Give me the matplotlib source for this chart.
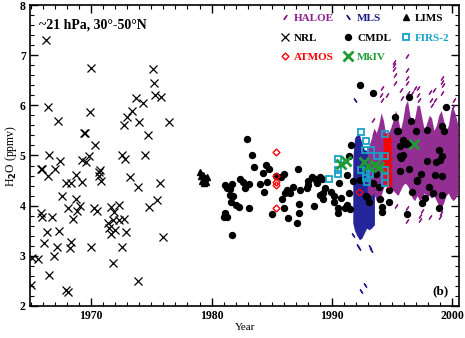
import matplotlib
matplotlib.use("Agg")
import matplotlib.pyplot as plt
from matplotlib.lines import Line2D
from matplotlib.ticker import MultipleLocator

plt.rcParams['font.family'] = ['Liberation Serif', 'DejaVu Serif']
plt.rcParams['font.weight'] = 'bold'

# NRL frost point (1964-1976)
nrl_x = [1966.2, 1966.4, 1967.2, 1970.0, 1969.9, 1969.4, 1969.5, 1970.3, 1966.45, 1967.4,
         1969.2, 1969.8, 1969.6, 1965.9, 1967.0, 1970.7, 1972.55, 1972.8, 1972.7, 1973.0,
         1973.4, 1973.75, 1974.3, 1974.0, 1974.7, 1974.5, 1975.1, 1975.25, 1975.3, 1975.8,
         1976.5, 1965.8, 1966.4, 1967.9, 1968.35, 1968.7, 1969.2, 1970.65, 1970.65, 1970.8,
         1967.6, 1968.75, 1969.1, 1968.05, 1968.8, 1968.5, 1970.2, 1970.5, 1965.85, 1965.9,
         1966.7, 1966.3, 1967.3, 1966.1, 1967.15, 1968.35, 1968.25, 1970.0, 1965.1, 1965.6,
         1966.9, 1966.45, 1967.9, 1968.1, 1971.6, 1972.3, 1971.85, 1972.7, 1972.3, 1971.8,
         1971.4, 1971.45, 1972.0, 1971.65, 1972.9, 1972.55, 1971.8, 1973.85, 1975.95, 1973.2,
         1973.85, 1974.8, 1975.45, 1975.7, 1965.0]
nrl_y = [7.30, 5.96, 5.68, 6.74, 5.86, 5.45, 5.44, 5.21, 5.00, 4.88,
         4.91, 4.98, 4.86, 4.74, 4.74, 4.72, 5.01, 4.93, 5.61, 5.77,
         5.89, 6.15, 6.04, 5.67, 5.41, 5.01, 6.72, 6.45, 6.21, 6.17,
         5.67, 4.73, 4.59, 4.46, 4.46, 4.61, 4.48, 4.68, 4.60, 4.50,
         4.20, 4.13, 4.00, 3.95, 3.89, 3.73, 3.95, 3.89, 3.85, 3.78,
         3.78, 3.48, 3.50, 3.25, 3.18, 3.27, 3.16, 3.18, 2.95, 2.94,
         3.00, 2.62, 2.32, 2.27, 3.98, 4.01, 3.88, 3.73, 3.71, 3.71,
         3.65, 3.55, 3.52, 3.43, 3.48, 3.18, 2.85, 2.49, 3.37, 4.57,
         4.37, 3.98, 4.11, 4.45, 2.42]

# LIMS (1978-79)
lims_x = [1979.0, 1979.1, 1979.3, 1979.45, 1979.2, 1979.35, 1979.6, 1979.5]
lims_y = [4.68, 4.60, 4.62, 4.55, 4.50, 4.45, 4.58, 4.48]

# CMDL balloon sondes
cmdl_x = [1981.0, 1981.1, 1981.15, 1981.3, 1981.3, 1981.55, 1981.55, 1981.6, 1981.7, 1981.7,
          1981.8, 1982.0, 1982.25, 1982.4, 1982.65, 1982.8, 1982.95, 1983.1, 1983.15, 1983.36,
          1983.5, 1984.0, 1984.3, 1984.4, 1984.5, 1984.6, 1984.8, 1985.05, 1985.4, 1985.8,
          1985.9, 1986.0, 1986.05, 1986.1, 1986.25, 1986.4, 1986.55, 1986.8, 1987.15, 1987.2,
          1987.25, 1987.3, 1987.4, 1987.9, 1988.0, 1988.05, 1988.35, 1988.5, 1988.6, 1988.75,
          1989.0, 1989.0, 1989.2, 1989.25, 1989.3, 1989.4, 1989.9, 1990.15, 1990.2, 1990.5,
          1990.55, 1990.6, 1990.75, 1991.1, 1991.25, 1991.25, 1991.4, 1991.4, 1991.5, 1991.6,
          1991.8, 1992.35, 1992.85, 1992.9, 1993.1, 1993.4, 1993.45, 1993.7, 1993.9, 1994.0,
          1994.15, 1994.15, 1994.8, 1994.8, 1995.3, 1995.4, 1995.55, 1995.7, 1995.7, 1995.7,
          1995.75, 1995.9, 1995.9, 1996.1, 1996.2, 1996.3, 1996.4, 1996.45, 1996.45, 1996.6,
          1996.65, 1997.0, 1997.05, 1997.1, 1997.4, 1997.5, 1997.75, 1997.9, 1997.95, 1998.1,
          1998.45, 1998.6, 1998.7, 1998.9, 1998.9, 1999.0, 1999.15, 1999.15, 1999.15, 1999.2,
          1999.35, 1999.5, 1992.35]
cmdl_y = [3.78, 3.85, 4.41, 4.35, 3.78, 4.21, 4.33, 4.08, 4.43, 3.42,
          4.19, 4.01, 3.97, 4.53, 4.48, 4.35, 5.32, 4.43, 3.95, 5.01,
          4.78, 4.43, 4.65, 4.28, 4.81, 4.47, 4.73, 3.83, 4.59, 4.57,
          4.13, 4.63, 3.95, 4.25, 4.31, 3.75, 4.25, 4.38, 3.65, 4.74,
          4.03, 3.85, 4.31, 4.35, 4.49, 4.41, 4.58, 3.99, 4.53, 4.45,
          4.58, 4.21, 4.53, 4.13, 4.26, 4.35, 4.28, 4.19, 4.08, 3.95,
          3.85, 4.45, 4.15, 3.95, 4.01, 4.61, 4.25, 4.98, 3.93, 5.21,
          4.50, 6.41, 4.20, 4.18, 4.08, 6.24, 4.46, 4.63, 4.38, 4.13,
          3.97, 3.88, 4.31, 4.08, 5.77, 5.49, 5.49, 5.18, 4.98, 4.70,
          4.94, 5.31, 5.01, 5.25, 5.22, 3.83, 4.74, 6.17, 5.24, 5.69,
          4.28, 5.49, 4.49, 4.51, 4.63, 4.05, 4.15, 5.51, 4.88, 4.38,
          4.25, 4.61, 4.86, 5.11, 3.95, 4.91, 4.98, 4.59, 4.21, 5.59,
          5.48, 5.97, 4.51]

# ATMOS (Spacelab 3, ATLAS)
atmos_x = [1985.35, 1985.4, 1985.4, 1985.4, 1985.4, 1992.3,
           1994.6, 1994.6, 1994.6, 1994.6, 1994.6, 1994.6, 1994.6, 1994.6, 1994.6, 1994.6,
           1994.6, 1994.6, 1994.6, 1994.6, 1994.6, 1994.6, 1994.6, 1994.6, 1994.6, 1994.6,
           1994.7, 1994.7, 1994.7, 1994.7, 1994.7, 1994.7, 1994.7, 1994.7, 1994.7, 1994.7]
atmos_y = [5.06, 4.59, 4.48, 4.41, 3.95, 4.28,
           5.38, 5.34, 5.30, 5.26, 5.22, 5.18, 5.14, 5.10, 5.06, 5.02,
           4.98, 4.94, 4.90, 4.86, 4.82, 4.78, 4.74, 4.70, 4.66, 4.62,
           5.28, 5.16, 5.04, 4.92, 4.80, 4.68, 4.60, 4.54, 4.48, 4.43]

# MkIV
mkiv_x = [1990.8, 1991.2, 1992.7, 1993.0, 1993.6, 1993.9, 1996.8]
mkiv_y = [4.83, 4.88, 4.86, 4.80, 4.82, 4.78, 5.22]

# FIRS-2
firs_x = [1992.4, 1992.85, 1992.8, 1993.25, 1992.45, 1992.85, 1992.85, 1993.2, 1994.45, 1994.45,
          1994.45, 1994.45, 1994.45, 1990.5, 1990.5, 1990.5, 1989.8, 1992.95, 1993.75]
firs_y = [5.46, 5.29, 5.11, 5.10, 4.71, 4.68, 4.55, 4.64, 5.42, 4.98,
          4.71, 4.57, 4.45, 4.92, 4.71, 4.64, 4.53, 4.48, 4.99]

# MLS dense band (envelope) and scattered points
mls_x = [1991.75, 1991.9, 1992.1, 1992.3, 1992.5, 1992.7, 1992.9, 1993.1, 1993.3, 1993.55]
mls_top = [4.95, 5.35, 5.42, 5.42, 5.25, 5.12, 5.10, 5.05, 5.00, 4.90]
mls_bot = [3.65, 3.50, 3.40, 3.32, 3.35, 3.45, 3.55, 3.52, 3.55, 3.62]
mls_px = [1991.95, 1991.8, 1992.2, 1992.25, 1993.2, 1993.3, 1992.75, 1992.45]
mls_py = [6.10, 3.41, 3.20, 3.15, 3.18, 3.12, 2.42, 2.30]

# HALOE dense band (envelope) and scattered streaks
haloe_x = [1992.95, 1993.1, 1993.3, 1993.5, 1993.7, 1993.9, 1994.1, 1994.3, 1994.5, 1994.7,
           1994.9, 1995.1, 1995.3, 1995.5, 1995.7, 1995.9, 1996.1, 1996.3, 1996.5, 1996.7,
           1996.9, 1997.1, 1997.3, 1997.5, 1997.7, 1997.9, 1998.1, 1998.3, 1998.5, 1998.7,
           1998.9, 1999.1, 1999.3, 1999.5, 1999.7, 1999.9, 2000.1, 2000.3, 2000.5]
haloe_top = [5.10, 5.20, 5.35, 5.55, 5.45, 5.60, 5.85, 5.70, 5.40, 5.45,
             5.55, 5.70, 5.90, 5.75, 5.50, 5.70, 6.00, 6.10, 5.80, 5.60,
             5.75, 6.00, 6.00, 5.75, 5.50, 5.65, 5.80, 5.75, 5.50, 5.60,
             5.80, 5.90, 5.70, 5.50, 5.60, 5.90, 5.95, 5.80, 5.60]
haloe_bot = [4.25, 4.20, 4.20, 4.25, 4.10, 4.05, 4.20, 4.35, 4.45, 4.40,
             4.35, 4.30, 4.25, 4.20, 4.30, 4.40, 4.45, 4.40, 4.30, 4.15,
             4.10, 4.20, 4.10, 4.15, 4.25, 4.20, 4.20, 4.15, 4.20, 4.10,
             4.00, 3.95, 4.05, 4.20, 4.25, 4.15, 4.10, 4.15, 4.25]
haloe_px = [1996.25, 1995.2, 1995.2, 1995.2, 1996.27, 1996.25, 1996.3, 1999.15, 1999.2, 1999.25,
            1998.2, 1998.25, 1997.2, 1997.25, 1994.15, 1994.2, 1993.45, 1993.5, 2000.05, 2000.1,
            1998.2, 1997.35, 1997.3, 1996.25, 1996.3, 1995.35, 1999.0, 1999.05, 1997.5, 1994.6,
            1995.8, 1995.85, 1998.5, 1998.55, 1996.9, 1995.3, 1996.7, 1995.25, 1996.35, 1999.2,
            1997.15, 1998.3, 1994.1, 2000.2]
haloe_py = [6.98, 6.87, 6.80, 6.73, 6.55, 6.45, 6.70, 6.54, 6.47, 6.40,
            6.27, 6.10, 6.35, 6.10, 6.35, 6.10, 5.70, 5.45, 5.97, 5.80,
            3.77, 3.72, 3.80, 3.70, 3.95, 4.00, 3.78, 3.85, 3.90, 6.20,
            6.30, 6.15, 6.30, 6.10, 6.35, 6.45, 6.25, 6.60, 6.25, 6.25,
            6.20, 6.00, 6.20, 6.10]

PURPLE = '#8e1f8e'
NAVY = '#1c1c8e'
CYAN = '#17a2c8'
GREEN = '#1f9a35'
RED = '#ff0000'
halo_mk = (2, 2, -35)
mls_mk = (2, 2, 35)

fig = plt.figure(figsize=(4.65, 3.38), dpi=100)
ax = fig.add_axes([0.0645, 0.095, 0.923, 0.890])

# dense retrievals shown as filled bands
ax.fill_between(mls_x, mls_bot, mls_top, color='#25259a', lw=0, zorder=2)
ax.plot(mls_px, mls_py, ls='none', marker=mls_mk, ms=3.5, mec=NAVY, mew=0.9, zorder=2)
ax.fill_between(haloe_x, haloe_bot, haloe_top, color='#932f93', lw=0, zorder=3)
ax.plot(haloe_px, haloe_py, ls='none', marker=halo_mk, ms=3.5, mec=PURPLE, mew=0.9, zorder=3)

ax.plot(nrl_x, nrl_y, ls='none', marker='x', ms=5.5, mec='black', mew=0.9, zorder=4)
ax.plot(lims_x, lims_y, ls='none', marker='^', ms=5, color='black', zorder=4)
ax.plot(cmdl_x, cmdl_y, ls='none', marker='o', ms=4.3, color='black', zorder=5)
ax.plot(atmos_x, atmos_y, ls='none', marker='D', ms=3.5, mfc='none', mec=RED, mew=1, zorder=6)
ax.plot(firs_x, firs_y, ls='none', marker='s', ms=5, mfc='none', mec=CYAN, mew=1.3, zorder=7)
ax.plot(mkiv_x, mkiv_y, ls='none', marker='x', ms=7, mec=GREEN, mew=2, zorder=8)

ax.set_xlim(1964.9, 2000.6)
ax.set_ylim(2, 8)
ax.xaxis.set_major_locator(MultipleLocator(10))
ax.xaxis.set_minor_locator(MultipleLocator(1))
ax.yaxis.set_major_locator(MultipleLocator(1))
ax.yaxis.set_minor_locator(MultipleLocator(0.2))
ax.tick_params(which='both', direction='in', top=True, right=True, labelsize=8.5, pad=3)
ax.tick_params(which='major', length=6, width=1)
ax.tick_params(which='minor', length=3, width=0.8)
for s in ax.spines.values():
    s.set_linewidth(1.2)

ax.set_xlabel('Year', fontsize=8, labelpad=1)
ax.set_ylabel('H$_\\mathbf{2}$O (ppmv)', fontsize=8.5, labelpad=1)
ax.text(0.02, 0.955, '~21 hPa, 30°-50°N', transform=ax.transAxes, fontsize=10,
        va='top', ha='left')
ax.text(0.975, 0.03, '(b)', transform=ax.transAxes, fontsize=9.5, ha='right', va='bottom')

handles = [
    Line2D([], [], ls='none', marker=halo_mk, ms=4, mec=PURPLE, mew=1),
    Line2D([], [], ls='none', marker='x', ms=5.5, mec='black', mew=0.9),
    Line2D([], [], ls='none', marker='D', ms=3.5, mfc='none', mec=RED, mew=1),
    Line2D([], [], ls='none', marker=mls_mk, ms=4, mec=NAVY, mew=1),
    Line2D([], [], ls='none', marker='o', ms=4.3, color='black'),
    Line2D([], [], ls='none', marker='x', ms=7, mec=GREEN, mew=2),
    Line2D([], [], ls='none', marker='^', ms=5, color='black'),
    Line2D([], [], ls='none', marker='s', ms=5, mfc='none', mec=CYAN, mew=1.3),
]
labels = ['HALOE', 'NRL', 'ATMOS', 'MLS', 'CMDL', 'MkIV', 'LIMS', 'FIRS-2']
colors = [PURPLE, 'black', RED, NAVY, 'black', GREEN, 'black', CYAN]
ax.legend(handles, labels, ncol=3, loc='upper right', bbox_to_anchor=(1.0, 1.005),
          frameon=False, fontsize=8, handlelength=0.8, handletextpad=0.4,
          columnspacing=0.9, labelspacing=0.85, labelcolor=colors)

fig.savefig('out.png', dpi=100)
